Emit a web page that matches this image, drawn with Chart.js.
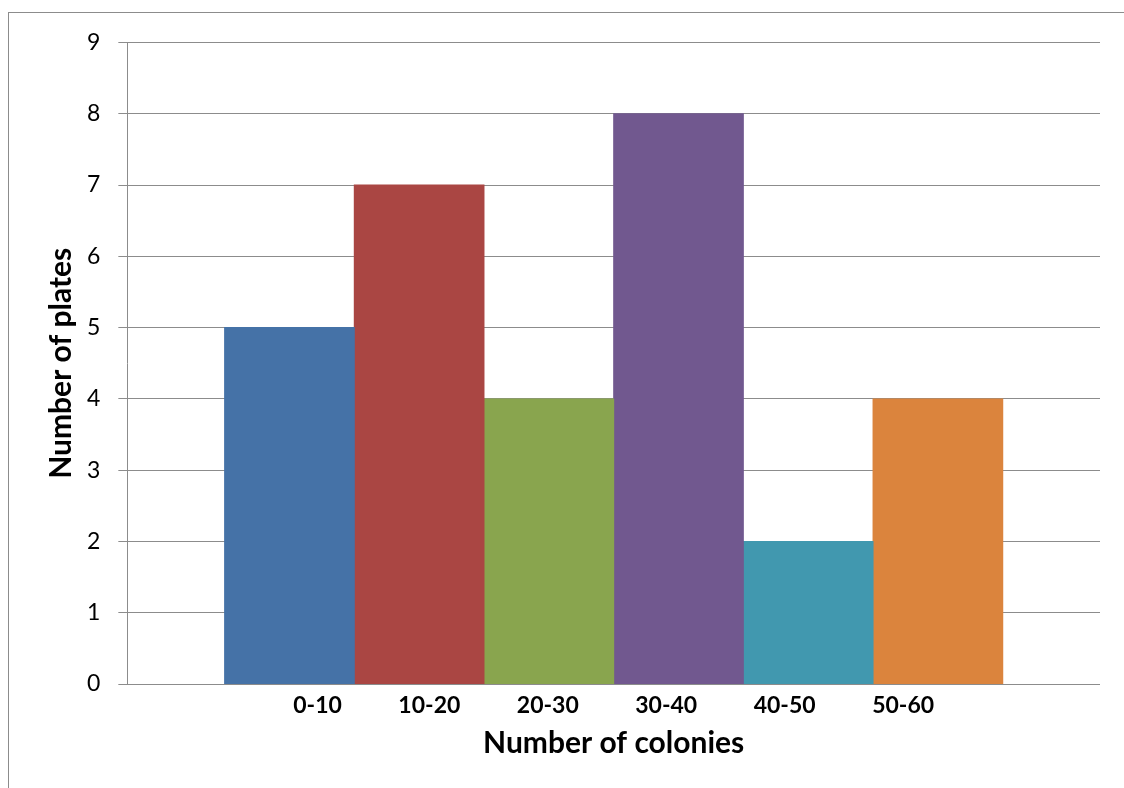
<!DOCTYPE html>
<html>
<head>
<meta charset="utf-8">
<script src="https://cdn.jsdelivr.net/npm/chart.js@4/dist/chart.umd.min.js"></script>
<style>
  html, body { margin: 0; padding: 0; background: #fff; }
  #frame {
    position: absolute; left: 8px; top: 12px;
    width: 1116px; height: 776px;
    border-left: 1px solid #8c8c8c; border-top: 1px solid #8c8c8c;
    box-sizing: border-box;
  }
  #chart { display: block; }
</style>
</head>
<body>
<div id="frame"><canvas id="chart" width="1115" height="775"></canvas></div>
<script>
// Colony-count bins and how many plates fell in each
const categories = ['0-10', '10-20', '20-30', '30-40', '40-50', '50-60'];
const plateCounts = [5, 7, 4, 8, 2, 4];
const barColors = ['#4572A7', '#AA4643', '#89A54E', '#71588F', '#4198AF', '#DB843D'];
const yMin = 0, yMax = 9, yStep = 1;

const FONT = 'Lato, "Open Sans", sans-serif';
const LEGEND_FONT_SIZE = 23;
const LEGEND_BOX = 35;      // invisible spacer in front of each label
const LEGEND_PAD = 10;

// One bar per bin, all sitting side by side in a single category
const datasets = categories.map((name, i) => ({
  label: name,
  data: [plateCounts[i]],
  backgroundColor: barColors[i],
  borderWidth: 0,
  inflateAmount: 0.5,
  categoryPercentage: 0.8,
  barPercentage: 1.0
}));

// The legend spacer sits before each label; shift the row so the text itself is centred
const legendShift = {
  id: 'legendShift',
  afterLayout(chart) {
    const lg = chart.legend;
    if (!lg) return;
    const off = (LEGEND_BOX + LEGEND_FONT_SIZE / 2) / 2;
    lg.left -= off;
    lg.right -= off;
  }
};

new Chart(document.getElementById('chart'), {
  type: 'bar',
  data: { labels: [''], datasets },
  plugins: [legendShift],
  options: {
    responsive: false,
    animation: false,
    events: [],
    layout: { padding: { top: 11, right: 24, bottom: 27, left: 37 } },
    scales: {
      x: { display: false },
      y: {
        min: yMin,
        max: yMax,
        ticks: {
          stepSize: yStep,
          color: '#000',
          padding: 18,
          font: { family: FONT, size: 23, lineHeight: 1.0 }
        },
        grid: { color: '#8c8c8c', lineWidth: 1, tickLength: 9, drawTicks: true },
        border: { display: true, color: '#8c8c8c', width: 1 },
        title: {
          display: true,
          text: 'Number of plates',
          color: '#000',
          font: { family: FONT, size: 30, weight: 'bold', lineHeight: 1.0 },
          padding: { top: 0, bottom: -7 }
        }
      }
    },
    plugins: {
      tooltip: { enabled: false },
      legend: {
        display: true,
        position: 'bottom',
        fullSize: false,
        labels: {
          color: '#000',
          font: { family: FONT, size: LEGEND_FONT_SIZE, weight: 'bold' },
          boxWidth: LEGEND_BOX,
          padding: LEGEND_PAD,
          generateLabels(chart) {
            return chart.data.datasets.map((ds, i) => ({
              text: ds.label,
              fillStyle: 'rgba(0,0,0,0)',
              strokeStyle: 'rgba(0,0,0,0)',
              lineWidth: 0,
              hidden: false,
              datasetIndex: i,
              fontColor: '#000'
            }));
          }
        }
      },
      title: {
        display: true,
        position: 'bottom',
        fullSize: false,
        text: 'Number of colonies',
        color: '#000',
        font: { family: FONT, size: 30, weight: 'bold' },
        padding: { top: -2, bottom: 0 }
      }
    }
  }
});
</script>
</body>
</html>
